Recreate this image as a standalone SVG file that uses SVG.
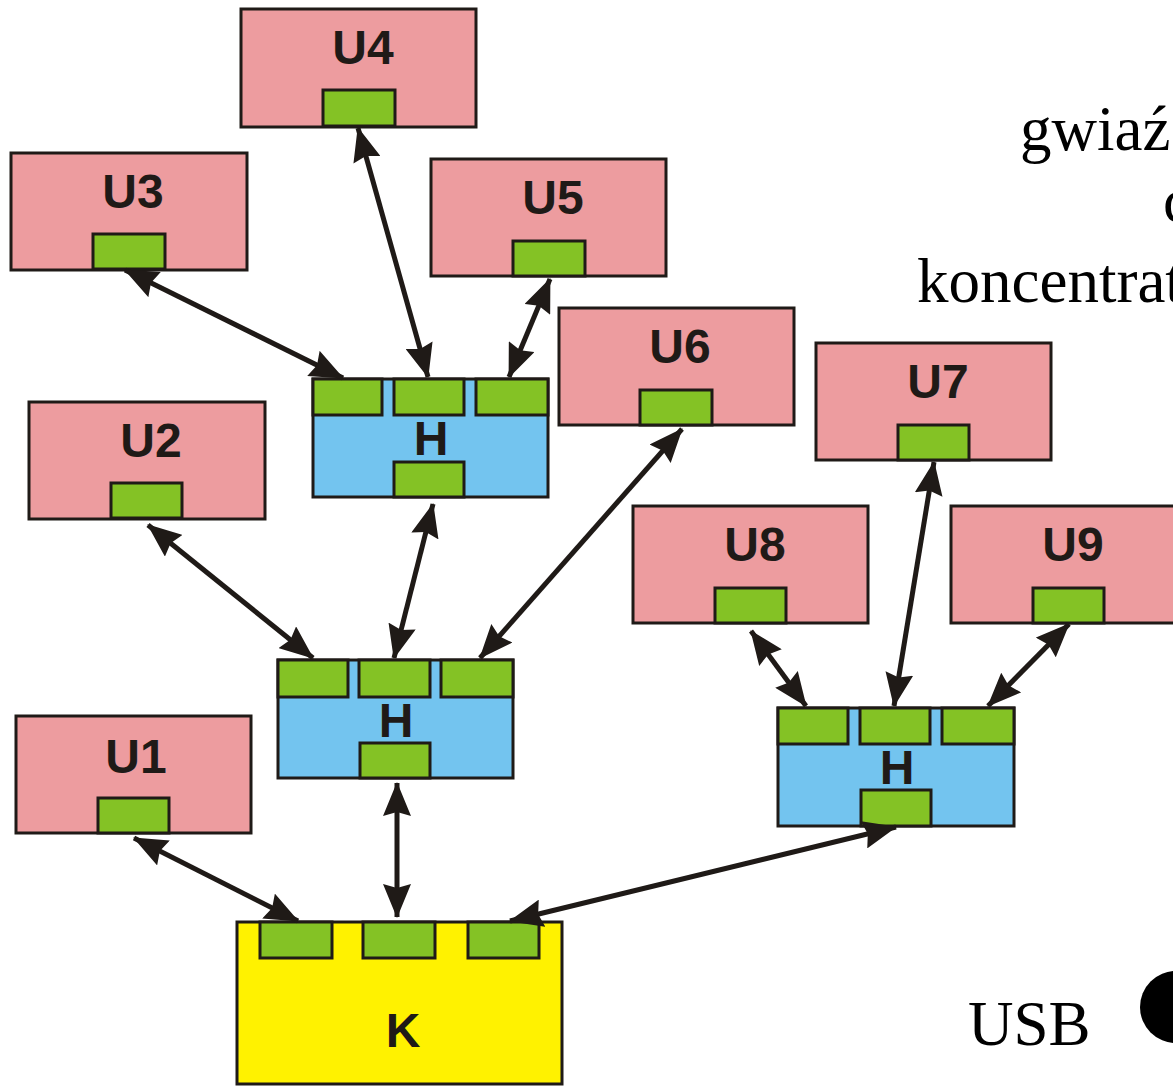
<svg xmlns="http://www.w3.org/2000/svg" width="1173" height="1086" viewBox="0 0 1173 1086">
<style>
.u{fill:#ed9c9f;stroke:#1f1a17;stroke-width:3}
.h{fill:#73c4ef;stroke:#1f1a17;stroke-width:3}
.k{fill:#fff200;stroke:#1f1a17;stroke-width:3}
.p{fill:#84c225;stroke:#1f1a17;stroke-width:3}
.lb{font-family:"Liberation Sans",Arial,sans-serif;font-weight:bold;font-size:48px;fill:#1f1a17;text-anchor:middle}
.tx{font-family:"Liberation Serif","Times New Roman",serif;font-size:63px;fill:#000}
.c{stroke:#1f1a17;stroke-width:5;fill:none;marker-start:url(#ah);marker-end:url(#ah)}
</style>
<defs>
<marker id="ah" markerUnits="userSpaceOnUse" viewBox="0 0 34 28" refX="33" refY="14" markerWidth="34" markerHeight="28" orient="auto-start-reverse">
<path d="M0,0 L34,14 L0,28 L4,14 z" fill="#1f1a17"/>
</marker>
</defs>
<rect width="1173" height="1086" fill="#fff"/>
<g id="U4"><rect class="u" x="241" y="9" width="235" height="118"/><rect class="p" x="323" y="90" width="72" height="36"/><text class="lb" x="363" y="64">U4</text></g>
<g id="U3"><rect class="u" x="11" y="153" width="236" height="117"/><rect class="p" x="93" y="234" width="72" height="35"/><text class="lb" x="133" y="208">U3</text></g>
<g id="U5"><rect class="u" x="431" y="159" width="235" height="117"/><rect class="p" x="513" y="241" width="72" height="35"/><text class="lb" x="553" y="214">U5</text></g>
<g id="U6"><rect class="u" x="559" y="308" width="235" height="117"/><rect class="p" x="640" y="390" width="72" height="35"/><text class="lb" x="680" y="363">U6</text></g>
<g id="U7"><rect class="u" x="816" y="343" width="235" height="117"/><rect class="p" x="898" y="425" width="71" height="35"/><text class="lb" x="938" y="398">U7</text></g>
<g id="U2"><rect class="u" x="29" y="402" width="236" height="117"/><rect class="p" x="111" y="483" width="71" height="35"/><text class="lb" x="151" y="457">U2</text></g>
<g id="U8"><rect class="u" x="633" y="506" width="235" height="117"/><rect class="p" x="715" y="588" width="71" height="35"/><text class="lb" x="755" y="561">U8</text></g>
<g id="U9"><rect class="u" x="951" y="506" width="235" height="117"/><rect class="p" x="1033" y="588" width="71" height="35"/><text class="lb" x="1073" y="561">U9</text></g>
<g id="U1"><rect class="u" x="16" y="716" width="235" height="117"/><rect class="p" x="98" y="798" width="71" height="35"/><text class="lb" x="136" y="773">U1</text></g>
<g id="H1"><rect class="h" x="313" y="379" width="235" height="118"/><rect class="p" x="313" y="379" width="69" height="36"/><rect class="p" x="394" y="379" width="70" height="36"/><rect class="p" x="476" y="379" width="72" height="36"/><rect class="p" x="394" y="462" width="70" height="35"/><text class="lb" x="431" y="455">H</text></g>
<g id="H2"><rect class="h" x="278" y="660" width="235" height="118"/><rect class="p" x="278" y="660" width="70" height="37"/><rect class="p" x="359" y="660" width="71" height="37"/><rect class="p" x="441" y="660" width="72" height="37"/><rect class="p" x="360" y="743" width="70" height="35"/><text class="lb" x="396" y="737">H</text></g>
<g id="H3"><rect class="h" x="778" y="708" width="236" height="118"/><rect class="p" x="778" y="708" width="70" height="36"/><rect class="p" x="860" y="708" width="70" height="36"/><rect class="p" x="942" y="708" width="72" height="36"/><rect class="p" x="861" y="790" width="70" height="36"/><text class="lb" x="897" y="784">H</text></g>
<g id="K"><rect class="k" x="237" y="922" width="325" height="162"/><rect class="p" x="260" y="922" width="72" height="36"/><rect class="p" x="363" y="922" width="72" height="36"/><rect class="p" x="468" y="922" width="71" height="36"/><text class="lb" x="403" y="1047">K</text></g>
<g id="connectors">
<line class="c" x1="358" y1="128" x2="428" y2="377"/>
<line class="c" x1="125" y1="270" x2="343" y2="378"/>
<line class="c" x1="550" y1="279" x2="509" y2="377"/>
<line class="c" x1="433" y1="504" x2="394" y2="658"/>
<line class="c" x1="148" y1="525" x2="313" y2="658"/>
<line class="c" x1="682" y1="429" x2="480" y2="658"/>
<line class="c" x1="397" y1="783" x2="397" y2="917"/>
<line class="c" x1="134" y1="838" x2="298" y2="921"/>
<line class="c" x1="896" y1="827" x2="510" y2="921"/>
<line class="c" x1="751" y1="631" x2="806" y2="706"/>
<line class="c" x1="934" y1="462" x2="894" y2="706"/>
<line class="c" x1="1069" y1="624" x2="988" y2="706"/>
</g>
<g id="legend">
<text class="tx" x="1020" y="150">gwiaź</text>
<text class="tx" x="1163" y="222">c</text>
<text class="tx" x="917" y="302">koncentrat</text>
<text class="tx" x="968" y="1045">USB</text>
<circle cx="1176" cy="1007" r="36" fill="#000"/>
</g>
</svg>
